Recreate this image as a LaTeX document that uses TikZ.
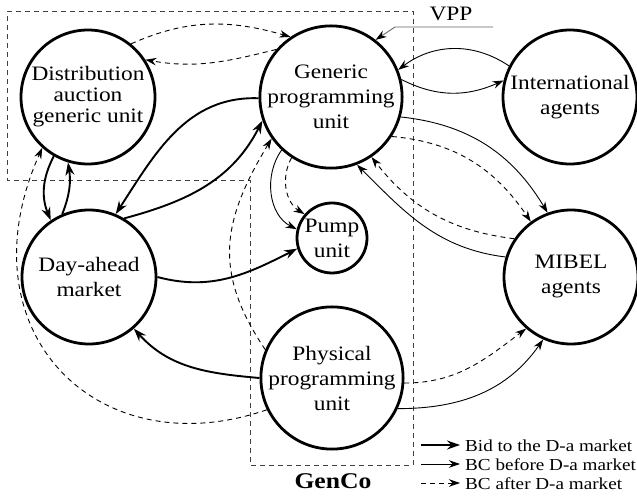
\documentclass[tikz,border=0pt]{standalone}
\usepackage{fontspec}
\setmainfont{Liberation Serif}[FakeStretch=1.14]
\usetikzlibrary{arrows.meta}
\begin{document}
\begin{tikzpicture}[x=1pt,y=1pt,
  agent/.style={circle, draw, line width=2.8pt, minimum size=134pt, inner sep=0pt, align=center, font=\fontsize{20.5}{25}\selectfont},
  thk/.style={line width=1.9pt, -{Stealth[length=13pt,width=9pt]}},
  thn/.style={line width=0.9pt, -{Stealth[length=11pt,width=7.5pt]}},
  dsh/.style={thn, dash pattern=on 5pt off 4pt},
  boxline/.style={line width=0.8pt, black!75, dash pattern=on 5pt off 4pt},
  legtext/.style={anchor=base west, font=\fontsize{16.8}{18}\selectfont, inner sep=0pt},
  ]
\useasboundingbox (0,0) rectangle (637,498);

% dashed VPP / GenCo outline
\draw[boxline] (7,487) -- (413,487) -- (413,33) -- (250,33) -- (250,318) -- (7,318) -- cycle;

% agents
\node[agent, font=\fontsize{20.5}{21}\selectfont] (D) at (88,401) {Distribution\\auction\\generic unit};
\node[agent] (G) at (331,401) {Generic\\programming\\unit};
\node[agent] (I) at (570,401) {International\\agents};
\node[agent] (A) at (89,221) {Day-ahead\\market};
\node[agent, minimum size=70pt] (P) at (332,260) {Pump\\unit};
\node[agent] (M) at (571,221) {MIBEL\\agents};
\node[agent] (Ph) at (332,120) {Physical\\programming\\unit};

% Distribution <-> Generic
\draw[dsh] (D.51) to[out=24,in=164] (G.124);
\draw[dsh] (G.139) to[out=194,in=350] (D.33);

% Generic <-> Day-ahead
\draw[thk] (G.181) to[out=178,in=57] (A.67);
\draw[thk] (A.59) to[out=15,in=243] (G.199);

% Distribution <-> Day-ahead
\draw[thk] (D.240) to[bend right=25] (A.124);
\draw[thk] (A.113) to[bend right=15] (D.253);

% Day-ahead -> Pump
\draw[thk] (A.0) to[out=-15,in=207] (P.197);

% Physical -> Day-ahead
\draw[thk] (Ph.180) to[out=175,in=312] (A.311);

% Physical -> Distribution (dashed)
\draw[dsh] (Ph.206) .. controls +(199:180pt) and +(246:200pt) .. (D.228);

% Physical -> Generic (dashed)
\draw[dsh] (Ph.157) .. controls +(124:95pt) and +(239:95pt) .. (G.215);

% Generic -> Pump
\draw[thn] (G.227) to[out=235,in=153] (P.166);
\draw[dsh] (G.237) to[out=241,in=148] (P.139);

% Generic <-> International
\draw[thn] (I.153) to[out=146,in=37] (G.22);
\draw[thn] (G.14) to[out=-27,in=204] (I.166);

% Generic -> MIBEL
\draw[thn] (G.-16) to[out=-6,in=121] (M.110);
\draw[dsh] (G.-33) to[out=-5,in=124] (M.126);

% MIBEL -> Generic
\draw[thn] (M.163) to[out=173,in=315] (G.291);
\draw[dsh] (M.146) to[out=173,in=308] (G.304);

% Physical -> MIBEL
\draw[dsh] (Ph.-4) to[out=0,in=217] (M.229);
\draw[thn] (Ph.-25) to[out=0,in=235] (M.246);

% VPP
\coordinate (vppR) at (493,471);
\coordinate (vppL) at (395,471);
\draw[line width=0.9pt, black!60, -{Stealth[length=11pt,width=7.5pt,black]}] (vppR) -- (vppL) -- (G.52);
\node[anchor=base, font=\fontsize{20.5}{25}\selectfont, inner sep=0pt] (vpp) at (451,477) {VPP};

% GenCo
\node[anchor=base, font=\fontsize{22.5}{25}\selectfont\bfseries, inner sep=0pt] (genco) at (333,10) {GenCo};

% legend
\coordinate (l1a) at (421,53); \coordinate (l1b) at (460,53);
\coordinate (l2a) at (421,34); \coordinate (l2b) at (460,34);
\coordinate (l3a) at (421,15); \coordinate (l3b) at (460,15);
\draw[thk] (l1a) -- (l1b);
\draw[thn] (l2a) -- (l2b);
\draw[dsh] (l3a) -- (l3b);
\node[legtext] (t1) at (465,47) {Bid to the D-a market};
\node[legtext] (t2) at (465,28) {BC before D-a market};
\node[legtext] (t3) at (465,9) {BC after D-a market};
\end{tikzpicture}
\end{document}
